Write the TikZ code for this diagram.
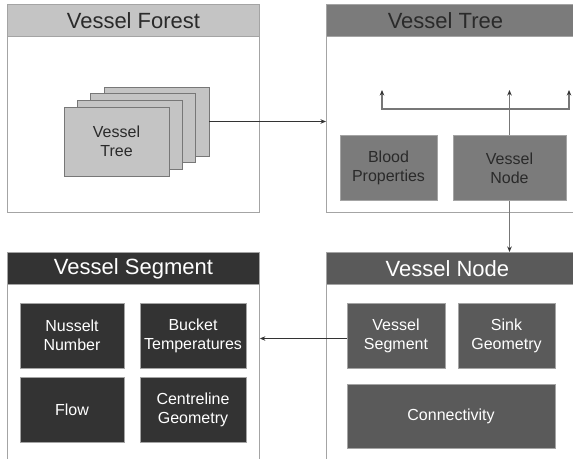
\documentclass[tikz,border=0pt]{standalone}
\usepackage{fontspec}
\setmainfont{Liberation Sans}
\usetikzlibrary{positioning,arrows.meta}
\definecolor{hdlight}{HTML}{C4C4C4}
\definecolor{hdmid}{HTML}{7B7B7B}
\definecolor{hdnode}{HTML}{5A5A5A}
\definecolor{hddark}{HTML}{333333}
\definecolor{frame}{HTML}{A4A4A4}
\definecolor{txtdark}{HTML}{2A2A2A}
\definecolor{linegray}{HTML}{777777}

\begin{document}
\begin{tikzpicture}[
    x=1pt, y=-1pt,
    >={Stealth[length=5.5pt,width=4.5pt,color=hddark]},
    panel/.style={rectangle, draw=frame, line width=0.9pt, anchor=north west,
        minimum width=252pt, minimum height=208pt, inner sep=0pt},
    header/.style={rectangle, draw=frame, line width=0.9pt, anchor=north west,
        minimum width=252pt, minimum height=32pt, inner sep=0pt,
        font=\fontsize{22}{26}\selectfont},
    block/.style={rectangle, draw=frame, line width=0.6pt, align=center,
        inner sep=0pt, minimum height=65pt, font=\fontsize{16}{19}\selectfont},
    card/.style={block, fill=hdlight, draw=linegray, text=txtdark,
        minimum width=105pt, minimum height=69pt},
    link/.style={->, line width=0.8pt, draw=hddark},
    branch/.style={line width=1.2pt, draw=linegray}
]
    \useasboundingbox (0,0) rectangle (573,458);
    \clip (0,0) rectangle (573,458);

    % panels
    \node[panel] (forest) at (7,4) {};
    \node[header, fill=hdlight, text=txtdark] (forest-hd) at (forest.north west) {Vessel Forest};
    \node[panel] (tree) at (326,4) {};
    \node[header, fill=hdmid, text=txtdark] (tree-hd) at (tree.north west) {Vessel Tree\hspace*{14pt}};
    \node[panel] (segment) at (7,252) {};
    \node[header, fill=hddark, text=white] (segment-hd) at (segment.north west) {Vessel Segment};
    \node[panel] (vnodep) at (326,252) {};
    \node[header, fill=hdnode, text=white] (vnodep-hd) at (vnodep.north west) {Vessel Node\hspace*{10pt}};

    % stack of trees
    \foreach \n/\x/\y in {3/156.5/121.5, 2/143.2/128.2, 1/129.8/134.8}
        \node[card] (card\n) at (\x,\y) {};
    \node[card] (card0) at (116.5,141.5) {Vessel\\Tree};

    % vessel tree contents
    \node[block, fill=hdmid, text=txtdark, minimum width=97pt] (blood) at (388.5,168) {Blood\\Properties};
    \node[block, fill=hdmid, text=txtdark, minimum width=113pt] (vnode) at (509.5,168) {Vessel\\Node};
    \coordinate (br-l) at (382,90);
    \coordinate (br-r) at (569,90);
    \coordinate (bar-l) at (382,109);
    \coordinate (bar-r) at (569,109);

    % vessel node contents
    \node[block, fill=hdnode, text=white, minimum width=98pt] (nseg) at (396,335.5) {Vessel\\Segment};
    \node[block, fill=hdnode, text=white, minimum width=97pt] (sink) at (506.5,335.5) {Sink\\Geometry};
    \node[block, fill=hdnode, text=white, minimum width=208pt, minimum height=64pt] (conn) at (451,416) {Connectivity};

    % vessel segment contents
    \node[block, fill=hddark, text=white, minimum width=104pt] (nusselt) at (72,335.5) {Nusselt\\Number};
    \node[block, fill=hddark, text=white, minimum width=106pt] (bucket) at (193,335.5) {Bucket\\Temperatures};
    \node[block, fill=hddark, text=white, minimum width=104pt] (flow) at (72,409.5) {Flow};
    \node[block, fill=hddark, text=white, minimum width=106pt] (centre) at (193,409.5) {Centreline\\Geometry};

    % connectors
    \draw[link] (card3.east) -- (card3.east -| tree.west);
    \draw[branch, ->] (vnode.north) -- (vnode.north |- br-l);
    \draw[branch, <->] (br-l) -- (bar-l) -- (bar-r) -- (br-r);
    \draw[branch, ->] (vnode.south) -- (vnode.south |- vnodep-hd.north);
    \draw[link] ([yshift=-3pt]nseg.west) -- ([yshift=-3pt]nseg.west -| segment.east);
\end{tikzpicture}
\end{document}
